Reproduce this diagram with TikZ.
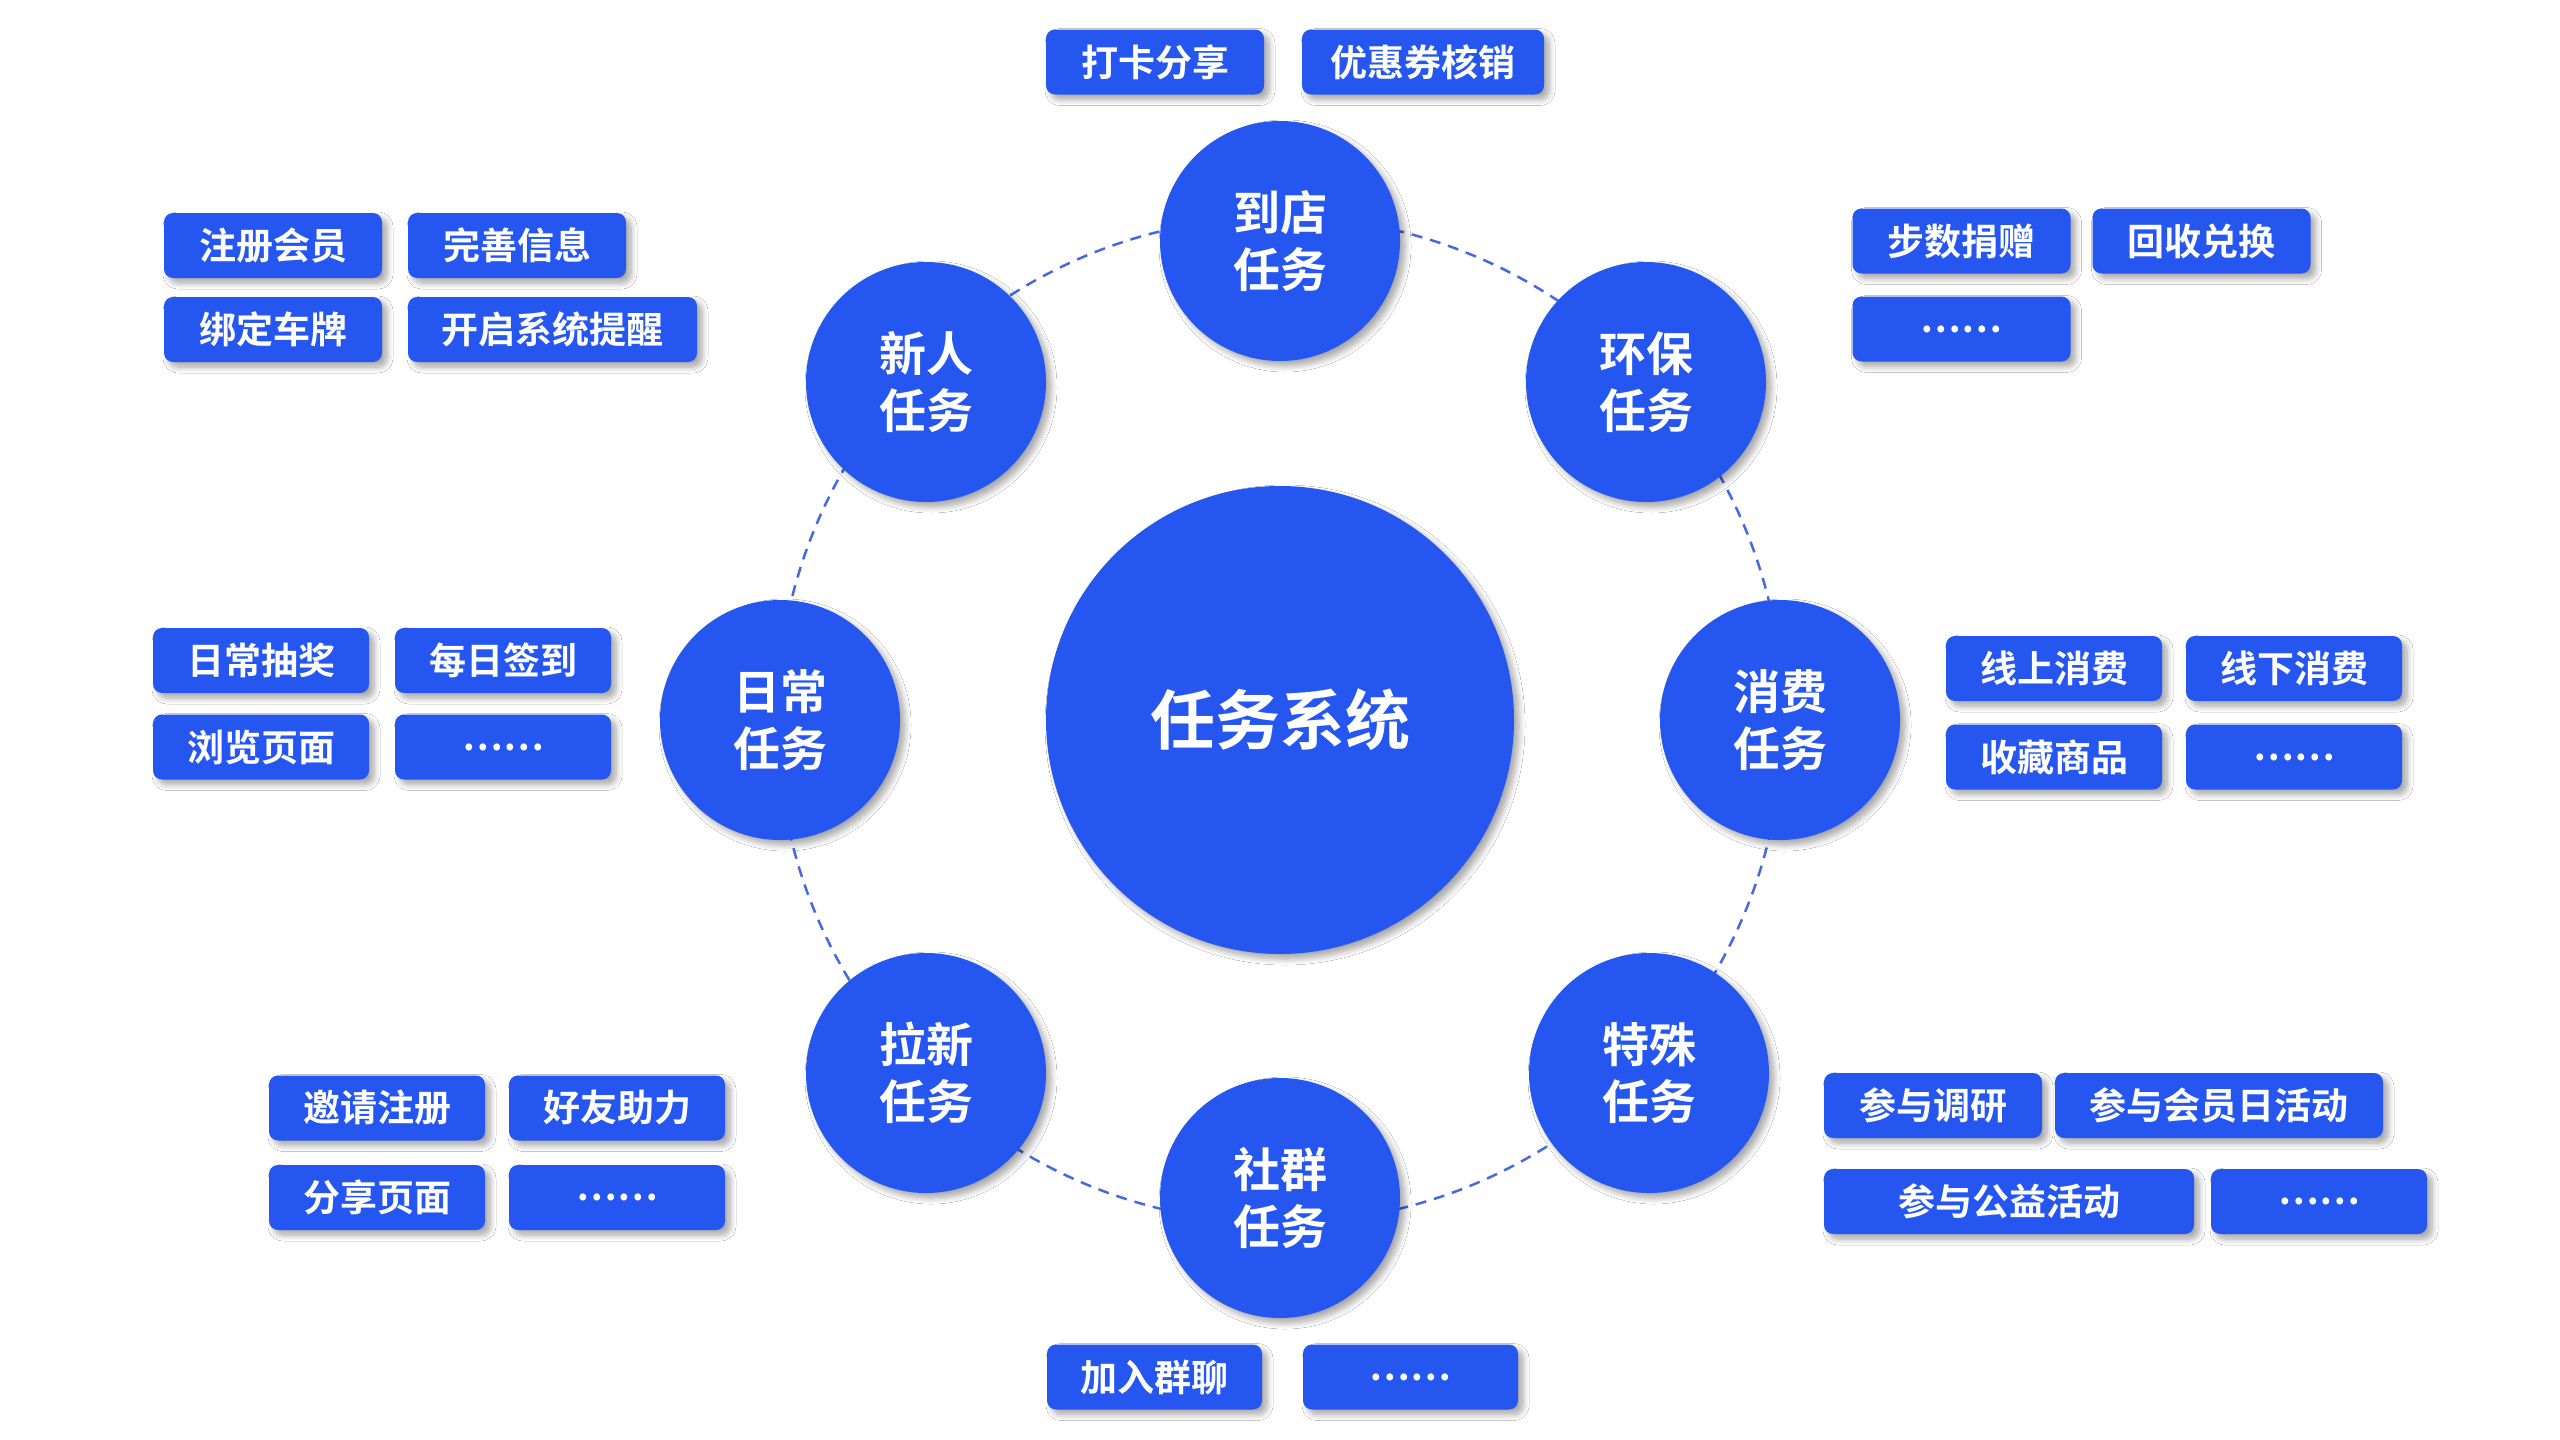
\documentclass[tikz,border=0pt]{standalone}
\usepackage{fontspec}
\setmainfont{Noto Sans CJK SC}[BoldFont={* Bold}]
\usetikzlibrary{shadows.blur}
\definecolor{tblue}{RGB}{37,87,240}
\definecolor{dashblue}{RGB}{70,105,225}
\tikzset{
  shad/.style={blur shadow={shadow xshift=5pt, shadow yshift=-5pt, shadow blur radius=6pt, shadow blur steps=8, shadow opacity=35}},
  sat/.style={circle, fill=tblue, minimum size=240pt, inner sep=0pt, text=white, align=center,
    font=\bfseries\fontsize{47}{57}\selectfont, shad},
  hub/.style={circle, fill=tblue, minimum size=468pt, inner sep=0pt, text=white,
    font=\bfseries\fontsize{65}{70}\selectfont, shad},
  tag/.style={rounded corners=9pt, fill=tblue, text=white, inner sep=0pt, minimum height=65pt,
    minimum width=218pt, font=\bfseries\fontsize{37}{40}\selectfont, shad},
  dashring/.style={draw=dashblue, line width=2.5pt, dash pattern=on 11pt off 8pt}
}
\begin{document}
\begin{tikzpicture}[x=1pt,y=-1pt]
\useasboundingbox[fill=white] (0,0) rectangle (2560,1440);
\node[hub] (hub) at (1280,720) {任务系统};
\draw[dashring] (hub.center) circle[radius=503pt];
% satellites
\node[sat] (daodian) at (1280,241) {到店\\任务};
\node[sat] (xinren) at (926,382) {新人\\任务};
\node[sat] (huanbao) at (1646,382) {环保\\任务};
\node[sat] (richang) at (780,720) {日常\\任务};
\node[sat] (xiaofei) at (1780,720) {消费\\任务};
\node[sat] (laxin) at (926,1073) {拉新\\任务};
\node[sat] (teshu) at (1649,1073) {特殊\\任务};
\node[sat] (shequn) at (1280,1198) {社群\\任务};
% top
\node[tag] (t1) at (1155,62) {打卡分享};
\node[tag, minimum width=242pt] (t2) at (1423,62) {优惠券核销};
% new user
\node[tag] (n1) at (273,245.5) {注册会员};
\node[tag] (n2) at (517,245.5) {完善信息};
\node[tag] (n3) at (273,329.5) {绑定车牌};
\node[tag, minimum width=289pt] (n4) at (552.5,329.5) {开启系统提醒};
% eco
\node[tag] (e1) at (1961.5,241) {步数捐赠};
\node[tag] (e2) at (2201.5,241) {回收兑换};
\node[tag] (e3) at (1961.5,329) {……};
% daily
\node[tag, minimum width=216pt] (d1) at (261,660.5) {日常抽奖};
\node[tag, minimum width=216pt] (d2) at (503,660.5) {每日签到};
\node[tag, minimum width=216pt] (d3) at (261,747) {浏览页面};
\node[tag, minimum width=216pt] (d4) at (503,747) {……};
% consume
\node[tag, minimum width=216pt] (c1) at (2054,668.5) {线上消费};
\node[tag, minimum width=216pt] (c2) at (2294,668.5) {线下消费};
\node[tag, minimum width=216pt] (c3) at (2054,757) {收藏商品};
\node[tag, minimum width=216pt] (c4) at (2294,757) {……};
% invite
\node[tag, minimum width=216pt] (l1) at (377,1108) {邀请注册};
\node[tag, minimum width=216pt] (l2) at (617,1108) {好友助力};
\node[tag, minimum width=216pt] (l3) at (377,1197.5) {分享页面};
\node[tag, minimum width=216pt] (l4) at (617,1197.5) {……};
% special
\node[tag] (s1) at (1933,1105.5) {参与调研};
\node[tag, minimum width=328pt] (s2) at (2219,1105.5) {参与会员日活动};
\node[tag, minimum width=370pt] (s3) at (2009,1201.5) {参与公益活动};
\node[tag, minimum width=216pt] (s4) at (2319,1201.5) {……};
% community
\node[tag, minimum width=215pt] (g1) at (1154.5,1377) {加入群聊};
\node[tag, minimum width=215pt] (g2) at (1410.5,1377) {……};
\end{tikzpicture}
\end{document}
